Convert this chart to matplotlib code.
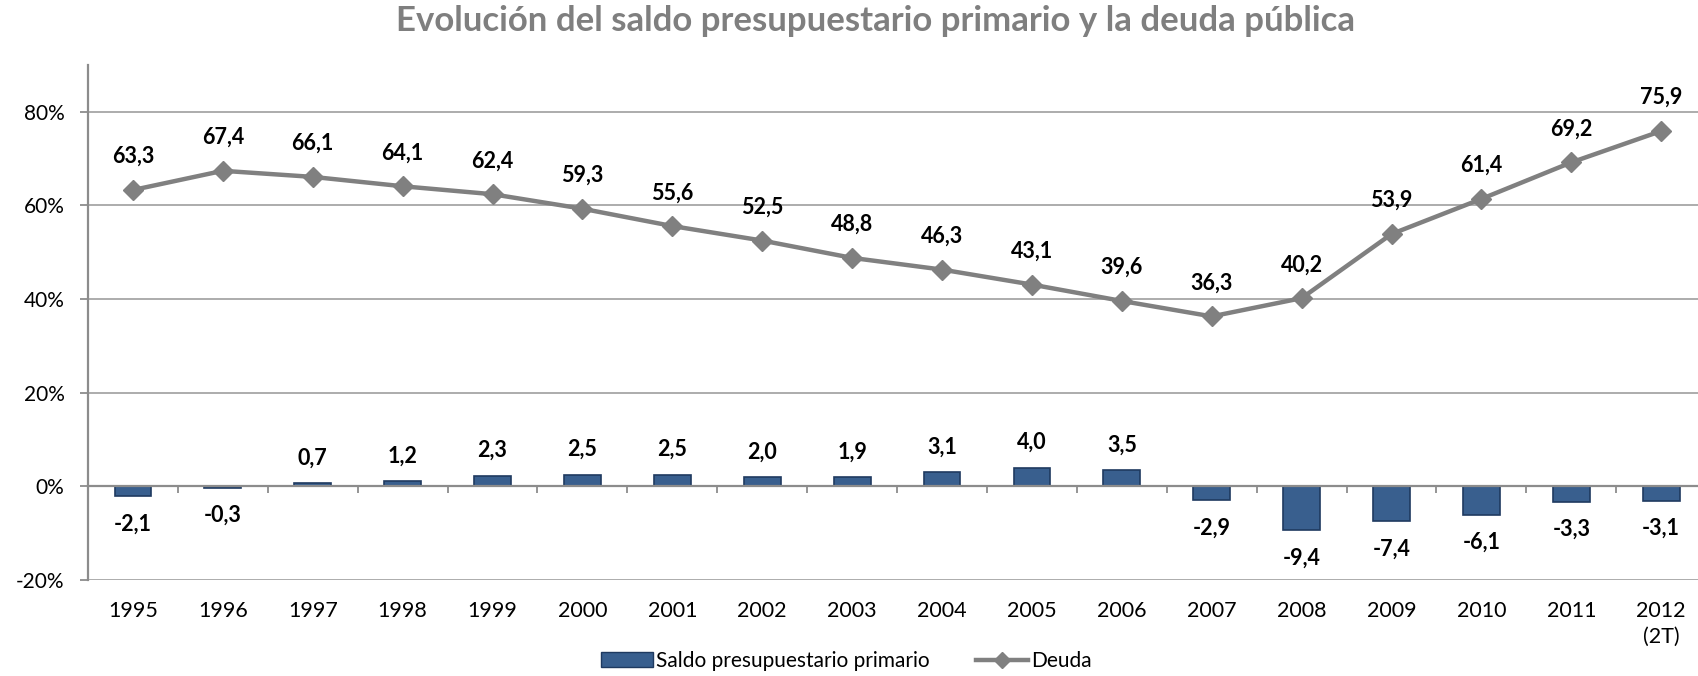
import matplotlib
matplotlib.use('Agg')
import matplotlib.pyplot as plt
from matplotlib.patches import Patch
from matplotlib.lines import Line2D

plt.rcParams['font.family'] = ['Lato', 'DejaVu Sans']

# Data
years = ['1995', '1996', '1997', '1998', '1999', '2000', '2001', '2002', '2003',
         '2004', '2005', '2006', '2007', '2008', '2009', '2010', '2011', '2012\n(2T)']
saldo = [-2.1, -0.3, 0.7, 1.2, 2.3, 2.5, 2.5, 2.0, 1.9, 3.1, 4.0, 3.5,
         -2.9, -9.4, -7.4, -6.1, -3.3, -3.1]
deuda = [63.3, 67.4, 66.1, 64.1, 62.4, 59.3, 55.6, 52.5, 48.8, 46.3, 43.1, 39.6,
         36.3, 40.2, 53.9, 61.4, 69.2, 75.9]
yticks = [-20, 0, 20, 40, 60, 80]

BAR_COLOR = '#395F8E'
BAR_EDGE = '#1F3A60'
LINE_COLOR = '#808080'
GRID_COLOR = '#A6A6A6'
AXIS_COLOR = '#8C8C8C'

def fmt(v):
    return f"{v:.1f}".replace('.', ',')

fig = plt.figure(figsize=(16.99, 6.76), dpi=100)
ax = fig.add_axes([88 / 1699, 96 / 676, 1 - 88 / 1699, (580 - 65) / 676])

x = list(range(len(years)))

ax.bar(x, saldo, width=0.41, color=BAR_COLOR, edgecolor=BAR_EDGE, linewidth=1.2, zorder=2)
ax.plot(x, deuda, color=LINE_COLOR, lw=3.2, marker='D', ms=10, zorder=3)

for xi, v in zip(x, deuda):
    ax.annotate(fmt(v), (xi, v), xytext=(0, 24), textcoords='offset points',
                ha='center', va='center', fontsize=15.5, fontweight='bold', color='black')
for xi, v in zip(x, saldo):
    off = 18 if v > 0 else -20
    ax.annotate(fmt(v), (xi, v), xytext=(0, off), textcoords='offset points',
                ha='center', va='center', fontsize=15.5, fontweight='bold', color='black')

ax.set_ylim(-20, 90)
ax.set_xlim(-0.5, 17.42)
ax.set_yticks(yticks)
ax.set_yticklabels([f"{t}%" for t in yticks], fontsize=15)
ax.tick_params(axis='y', length=6, width=1.3, color=AXIS_COLOR, pad=11)
ax.yaxis.grid(True, color=GRID_COLOR, lw=1.3)
ax.set_axisbelow(True)

for s in ['top', 'right']:
    ax.spines[s].set_visible(False)
ax.spines['left'].set_color(AXIS_COLOR)
ax.spines['left'].set_linewidth(1.6)
ax.spines['bottom'].set_position(('data', 0))
ax.spines['bottom'].set_color(AXIS_COLOR)
ax.spines['bottom'].set_linewidth(1.6)

# category boundary ticks on the zero line
ax.set_xticks([i + 0.5 for i in x[:-1]])
ax.tick_params(axis='x', length=5, width=1.3, color=AXIS_COLOR, direction='out', labelbottom=False)

# year labels at the bottom
sec = ax.secondary_xaxis('bottom')
sec.set_xticks(x, labels=years)
sec.tick_params(length=0, pad=15, labelsize=15.5)
for lab in sec.get_xticklabels():
    lab.set_linespacing(1.4)
sec.spines['bottom'].set_visible(False)

fig.text(876 / 1699, 1 - 21 / 676, 'Evolución del saldo presupuestario primario y la deuda pública',
         ha='center', va='center', fontsize=25, fontweight='bold', color='#7F7F7F')

handles = [Patch(facecolor=BAR_COLOR, edgecolor=BAR_EDGE, label='Saldo presupuestario primario'),
           Line2D([], [], color=LINE_COLOR, lw=3.2, marker='D', ms=8, label='Deuda')]
fig.legend(handles=handles, loc='center left', bbox_to_anchor=(601 / 1699, 1 - 661 / 676), ncol=2,
           frameon=False, fontsize=15, handlelength=2.5, handletextpad=0.15, columnspacing=2.2,
           borderpad=0, borderaxespad=0)

fig.savefig('out.png', dpi=100)
